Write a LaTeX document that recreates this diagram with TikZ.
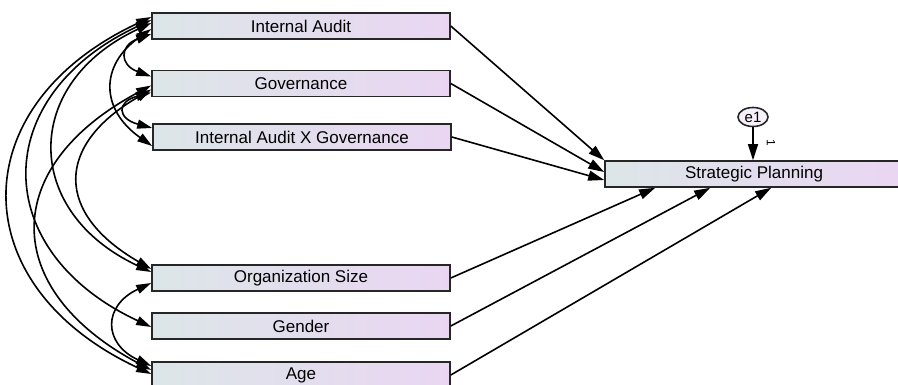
\documentclass[tikz,border=0pt]{standalone}
\usepackage{fontspec}
\setmainfont{Liberation Sans}
\usetikzlibrary{arrows.meta}
\usetikzlibrary{shapes.geometric}
\definecolor{boxleft}{HTML}{DCE6E8}
\definecolor{boxright}{HTML}{EAD6F2}

\begin{document}
\begin{tikzpicture}[x=1pt,y=1pt,
    var/.style={draw=black!85,line width=1.6pt,left color=boxleft,right color=boxright,
        minimum width=298pt,minimum height=26pt,inner sep=0pt,font=\fontsize{17}{19}\selectfont},
    err/.style={ellipse,draw=black!85,line width=1.6pt,fill=boxright!40,
        minimum width=30pt,minimum height=19pt,inner sep=0pt,font=\fontsize{15}{16}\selectfont},
    reg/.style={-{Triangle[length=16pt,width=10pt]},line width=1.6pt},
    cov/.style={{Triangle[length=15pt,width=9pt]}-{Triangle[length=15pt,width=9pt]},line width=1.6pt}]
    \clip (0,0) rectangle (898,384);
    % observed variables
    \node[var] (ia) at (301,358) {Internal Audit};
    \node[var] (gov) at (301,300.5) {Governance};
    \node[var] (iaxg) at (302,247) {Internal Audit X Governance};
    \node[var] (org) at (301,106) {Organization Size};
    \node[var] (gender) at (301,58) {Gender};
    \node[var] (age) at (301,9) {Age};
    \node[var] (sp) at (754,210) {Strategic Planning};
    \node[err] (e1) at (753,267) {e1};
    \node[font=\fontsize{12}{12}\selectfont,rotate=-90] (one) at (771,241) {1};
    % regression paths
    \draw[reg] (ia.east) -- (sp.north west);
    \draw[reg] (gov.east) -- ([yshift=2pt]sp.west);
    \draw[reg] (iaxg.east) -- ([yshift=-6pt]sp.west);
    \draw[reg] (org.east) -- ([xshift=51pt]sp.south west);
    \draw[reg] (gender.east) -- ([xshift=106pt]sp.south west);
    \draw[reg] (age.east) -- ([xshift=167pt]sp.south west);
    \draw[reg] (e1) -- (e1 |- sp.north);
    % covariances
    \draw[cov] ([yshift=9pt]ia.west) to[out=205,in=155,looseness=1.5] ([yshift=1pt]age.west);
    \draw[cov] ([yshift=6pt]ia.west) to[out=205,in=155,looseness=1.5] ([yshift=-1pt]gender.west);
    \draw[cov] ([yshift=3pt]ia.west) to[out=205,in=155,looseness=1.47] ([yshift=6pt]org.west);
    \draw[cov] ([yshift=-2pt]gov.west) to[out=208,in=152,looseness=1.55] ([yshift=5pt]age.west);
    \draw[cov] ([yshift=-6pt]gov.west) to[out=210,in=150,looseness=1.59] ([yshift=9pt]org.west);
    \draw[cov] ([yshift=-8pt]ia.west) to[out=200,in=160,looseness=2.04] ([yshift=7pt]gov.west);
    \draw[cov] ([yshift=-3pt]ia.west) to[out=215,in=145,looseness=1.38] ([yshift=-9pt]iaxg.west);
    \draw[cov] ([yshift=-9pt]gov.west) to[out=195,in=165,looseness=2.6] ([yshift=9pt]iaxg.west);
    \draw[cov] ([yshift=-5pt]org.west) to[out=205,in=155,looseness=1.65] ([yshift=9pt]age.west);
\end{tikzpicture}
\end{document}
